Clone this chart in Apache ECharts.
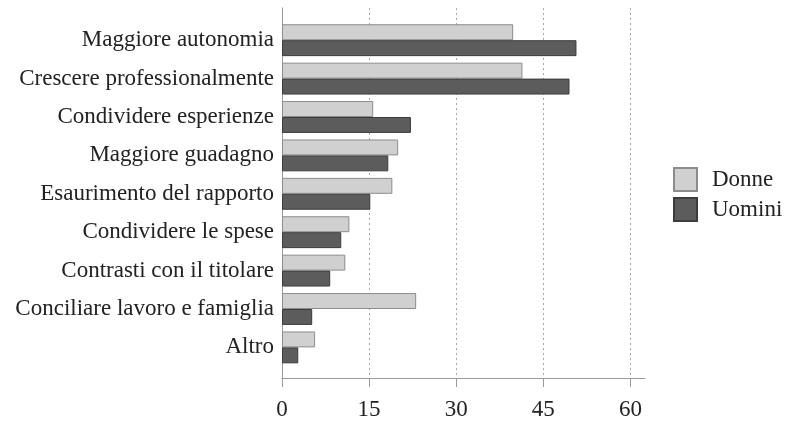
<!DOCTYPE html>
<html>
<head>
<meta charset="utf-8">
<script src="https://cdn.jsdelivr.net/npm/echarts@6/dist/echarts.min.js"></script>
<style>
  html, body { margin: 0; padding: 0; background: #fff; }
  #chart { width: 788px; height: 421px; }
</style>
</head>
<body>
<div id="chart"></div>
<script>
const categories = [
  'Maggiore autonomia',
  'Crescere professionalmente',
  'Condividere esperienze',
  'Maggiore guadagno',
  'Esaurimento del rapporto',
  'Condividere le spese',
  'Contrasti con il titolare',
  'Conciliare lavoro e famiglia',
  'Altro'
];
const donne  = [39.8, 41.4, 15.7, 20.0, 19.0, 11.6, 10.9, 23.1, 5.7];
const uomini = [50.7, 49.5, 22.2, 18.3, 15.2, 10.2, 8.3, 5.2, 2.8];
const xTicks = [0, 15, 30, 45, 60];

const FONT = 'Liberation Serif';
const chart = echarts.init(document.getElementById('chart'), null, { renderer: 'canvas' });

chart.setOption({
  animation: false,
  backgroundColor: '#ffffff',
  textStyle: { fontFamily: FONT },
  grid: [
    { left: 282, width: 363, top: 21, height: 345.6 },
    { left: 282, width: 363, top: 8, height: 370 }
  ],
  legend: {
    orient: 'vertical',
    left: 668,
    top: 162,
    itemWidth: 23,
    itemHeight: 23,
    itemGap: 5,
    icon: 'rect',
    textStyle: { fontFamily: FONT, fontSize: 23, color: '#222', padding: [0, 0, 0, 10] },
    data: ['Donne', 'Uomini']
  },
  xAxis: [
    { gridIndex: 0, type: 'value', min: 0, max: 62.5, show: false },
    {
      gridIndex: 1, type: 'value', min: 0, max: 62.5, interval: 15,
      axisLine: { show: true, lineStyle: { color: '#9a9a9a', width: 1 } },
      axisTick: { show: true, length: 9, lineStyle: { color: '#9a9a9a' } },
      axisLabel: {
        showMaxLabel: false,
        margin: 20,
        fontFamily: FONT, fontSize: 23, color: '#222',
        formatter: function (v) { return xTicks.indexOf(v) >= 0 ? String(v) : ''; }
      },
      splitLine: {
        show: true, showMinLine: false, showMaxLine: false,
        lineStyle: { color: '#a8a8a8', type: [2, 3], width: 1 }
      }
    }
  ],
  yAxis: [
    {
      gridIndex: 0, type: 'category', inverse: true, data: categories,
      axisLine: { show: false }, axisTick: { show: false },
      axisLabel: { margin: 8, fontFamily: FONT, fontSize: 23, color: '#222' }
    },
    {
      gridIndex: 1, type: 'value', min: 0, max: 1,
      axisLine: { show: true, lineStyle: { color: '#9a9a9a', width: 1 } },
      axisTick: { show: false }, axisLabel: { show: false }, splitLine: { show: false }
    }
  ],
  series: [
    {
      name: 'Donne', type: 'bar', xAxisIndex: 0, yAxisIndex: 0, data: donne,
      barGap: '0%', barCategoryGap: '17%',
      itemStyle: { color: '#d0d0d0', borderColor: '#8c8c8c', borderWidth: 1 }
    },
    {
      name: 'Uomini', type: 'bar', xAxisIndex: 0, yAxisIndex: 0, data: uomini,
      barGap: '0%', barCategoryGap: '17%',
      itemStyle: { color: '#5c5c5c', borderColor: '#3c3c3c', borderWidth: 1 }
    }
  ]
});
</script>
</body>
</html>
